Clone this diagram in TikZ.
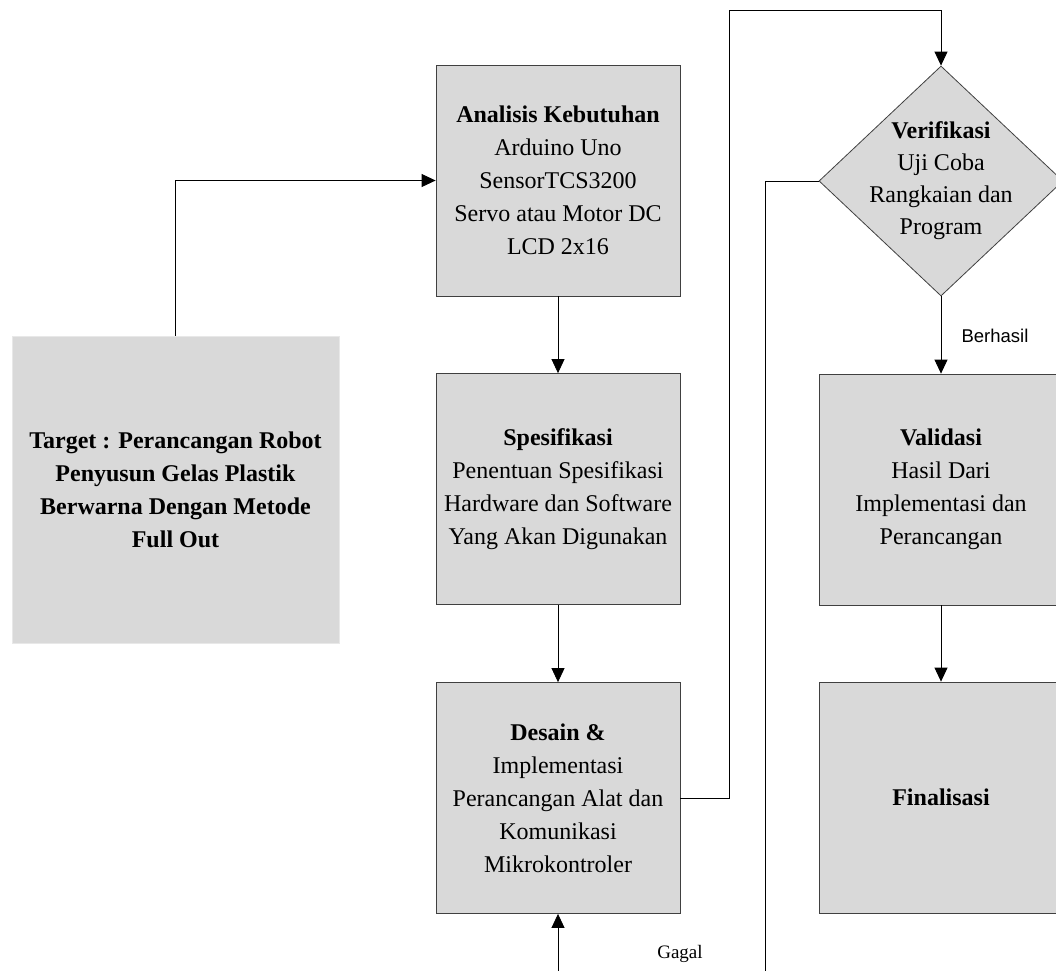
\documentclass[tikz,border=0pt]{standalone}
\usepackage{fontspec}
\setmainfont{Liberation Serif}
\setsansfont{Liberation Sans}
\usetikzlibrary{shapes.geometric}
\usetikzlibrary{arrows.meta}
\definecolor{boxfill}{RGB}{217,217,217}
\definecolor{boxline}{RGB}{64,64,64}
\tikzset{stepbox/.style={rectangle,draw=boxline,fill=boxfill,line width=0.8pt,
   minimum width=244pt,minimum height=231pt,inner sep=0pt,align=center,
   font=\fontsize{24}{33}\selectfont},
 targetbox/.style={stepbox,draw=boxfill!60,minimum width=327pt,minimum height=307pt},
 decisionbox/.style={diamond,draw=boxline,fill=boxfill,line width=0.8pt,
   minimum width=244pt,minimum height=230pt,inner sep=0pt},
 flowline/.style={draw,line width=0.8pt,-{Triangle[length=14pt,width=13pt]}},
 plainline/.style={draw,line width=0.8pt},
 }

\begin{document}
\begin{tikzpicture}[x=1pt,y=-1pt]
        \path[use as bounding box,clip] (0,0) rectangle (1056,970);
        % boxes
        \node[targetbox] (target) at (175.5,489.5)
            {\textbf{Target : Perancangan Robot}\\\textbf{Penyusun Gelas Plastik}\\
             \textbf{Berwarna Dengan Metode}\\\textbf{Full Out}};
        \node[stepbox] (analisis) at (558,180.5)
            {\textbf{Analisis Kebutuhan}\\Arduino Uno\\SensorTCS3200\\Servo atau Motor DC\\LCD 2x16};
        \node[stepbox] (spesifikasi) at (558,489)
            {\textbf{Spesifikasi}\\Penentuan Spesifikasi\\Hardware dan Software\\Yang Akan Digunakan};
        \node[stepbox] (desain) at (558,798)
            {\textbf{Desain \&}\\Implementasi\\Perancangan Alat dan\\Komunikasi\\Mikrokontroler};
        \node[decisionbox,label={[align=center,font=\fontsize{24}{32}\selectfont]center:%
            \textbf{Verifikasi}\\Uji Coba\\Rangkaian dan\\Program}] (verifikasi) at (941,181) {};
        \node[stepbox] (validasi) at (941,489.5)
            {\textbf{Validasi}\\Hasil Dari\\Implementasi dan\\Perancangan};
        \node[stepbox] (finalisasi) at (941,797.5) {\textbf{Finalisasi}};
        % loose ends
        \coordinate (uptop) at (729,10);
        \coordinate (gagalend) at (765,972);
        \coordinate (desainend) at (558,972);
        % connectors
        \draw[flowline] (target.north) |- (analisis.west);
        \draw[flowline] (analisis.south) -- (spesifikasi.north);
        \draw[flowline] (spesifikasi.south) -- (desain.north);
        \draw[flowline] (desain.east) -| (uptop) -| (verifikasi.north);
        \draw[flowline] (verifikasi.south) -- (validasi.north);
        \draw[flowline] (validasi.south) -- (finalisasi.north);
        \draw[plainline] (verifikasi.west) -| (gagalend);
        \draw[flowline] (desainend) -- (desain.south);
        % labels
        \node[anchor=base west,font=\sffamily\fontsize{18.5}{22}\selectfont] (berhasil) at (958,342) {Berhasil};
        \node[anchor=base,font=\fontsize{19}{22}\selectfont] (gagal) at (680,958) {Gagal};
    \end{tikzpicture}
\end{document}
